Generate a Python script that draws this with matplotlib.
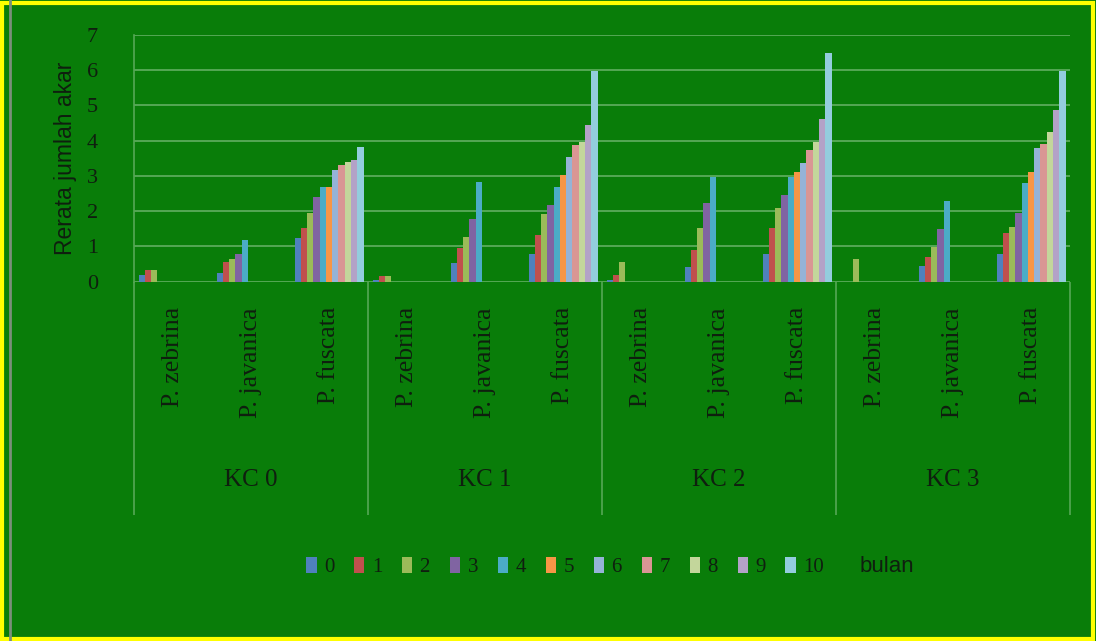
import numpy as np
import matplotlib
matplotlib.use("Agg")
import matplotlib.pyplot as plt
from matplotlib.patches import Patch, Rectangle
from matplotlib.lines import Line2D

#========= Data ==================================
groups  = ["KC 0", "KC 1", "KC 2", "KC 3"]
species = ["P. zebrina", "P. javanica", "P. fuscata"]
months  = ["0", "1", "2", "3", "4", "5", "6", "7", "8", "9", "10"]

# one value per month 0..10 for each group
zebrina = {
    "KC 0": [0.20, 0.33, 0.33, 0, 0, 0, 0, 0, 0, 0, 0],
    "KC 1": [0.05, 0.15, 0.15, 0, 0, 0, 0, 0, 0, 0, 0],
    "KC 2": [0.05, 0.20, 0.55, 0, 0, 0, 0, 0, 0, 0, 0],
    "KC 3": [0.00, 0.00, 0.63, 0, 0, 0, 0, 0, 0, 0, 0],
}
javanica = {
    "KC 0": [0.24, 0.57, 0.63, 0.80, 1.18, 0, 0, 0, 0, 0, 0],
    "KC 1": [0.54, 0.95, 1.28, 1.77, 2.84, 0, 0, 0, 0, 0, 0],
    "KC 2": [0.43, 0.90, 1.51, 2.22, 2.98, 0, 0, 0, 0, 0, 0],
    "KC 3": [0.45, 0.71, 0.99, 1.49, 2.29, 0, 0, 0, 0, 0, 0],
}
fuscata = {
    "KC 0": [1.23, 1.51, 1.96, 2.41, 2.70, 2.70, 3.17, 3.31, 3.40, 3.45, 3.81],
    "KC 1": [0.80, 1.32, 1.91, 2.18, 2.70, 3.03, 3.55, 3.88, 3.97, 4.45, 5.98],
    "KC 2": [0.80, 1.51, 2.08, 2.46, 2.98, 3.12, 3.36, 3.74, 3.97, 4.61, 6.48],
    "KC 3": [0.80, 1.39, 1.54, 1.96, 2.79, 3.12, 3.78, 3.92, 4.26, 4.87, 5.99],
}

colors = ["#4F81BD", "#C0504D", "#9BBB59", "#8064A2", "#4BACC6", "#F79646",
          "#95B3D7", "#D99694", "#C3D69B", "#B3A2C7", "#93CDDD"]

#========= Style ===========
bg    = "#097d09"
grid  = "#55a855"
ink   = "#0f1f0f"
serif = "Liberation Serif"
sans  = "Liberation Sans"

fig = plt.figure(figsize=(10.96, 6.41), dpi=100, facecolor=bg)
ax = fig.add_axes([134/1096, 1-281.7/641, 936/1096, 246.7/641])
ax.set_facecolor(bg)

#========= Bars ===========
table = []
for g in groups:
    table.append(zebrina[g])
    table.append(javanica[g])
    table.append(fuscata[g])
table = np.array(table)          # (12 categories, 11 months)

ncat = table.shape[0]
x = np.arange(ncat)
bw = (69.0/78.0)/len(months)
for m in range(len(months)):
    off = (m - (len(months)-1)/2.0)*bw
    ax.bar(x+off, table[:, m], width=bw, color=colors[m], zorder=3, linewidth=0)

ax.set_xlim(-0.5, ncat-0.5)
ax.set_ylim(0, 7)
ax.set_yticks(range(0, 8))
ax.yaxis.grid(True, color=grid, linewidth=1.4, zorder=1)
ax.set_xticks([])
for s in ["top", "right", "bottom"]:
    ax.spines[s].set_visible(False)
ax.spines["left"].set_color(grid)
ax.spines["left"].set_linewidth(1.2)
ax.tick_params(axis="y", length=0, pad=26, labelcolor=ink)
for lab in ax.get_yticklabels():
    lab.set_fontfamily(serif)
    lab.set_fontsize(16)

ax.set_ylabel("Rerata jumlah akar", fontfamily=sans, fontsize=16.5, color=ink, labelpad=7)

#========= Category axis ===========
xt = ax.get_xaxis_transform()
ax.vlines(np.arange(0, ncat+1, 3)-0.5, -0.946, 0, transform=xt, color=grid,
          linewidth=1.2, clip_on=False)
for i in range(ncat):
    ax.text(x[i], -0.103, species[i % 3], transform=xt, rotation=90, ha="center",
            va="top", fontfamily=serif, fontsize=18.5, color=ink)
for k, g in enumerate(groups):
    ax.text(3*k+1, -0.804, g, transform=xt, ha="center", va="center",
            fontfamily=serif, fontsize=18, color=ink)

#========= Legend ===========
handles = [Patch(facecolor=c, edgecolor="none") for c in colors]
leg = fig.legend(handles, months, loc="center", bbox_to_anchor=(565/1096, 1-567/641),
                 ncol=len(months), frameon=False, handlelength=0.5, handleheight=0.8,
                 handletextpad=0.35, columnspacing=0.95,
                 prop={"family": serif, "size": 15})
for t in leg.get_texts():
    t.set_color(ink)
fig.text(860/1096, 1-567/641, "bulan", fontfamily=sans, fontsize=16, color=ink,
         va="center", ha="left")

#========= Frame ===========
fig.add_artist(Line2D([10/1096, 10/1096], [0, 1], color="#7a8f7a", linewidth=2))
fig.add_artist(Rectangle((0.002, 0.003), 0.995, 0.993, transform=fig.transFigure,
                         fill=False, edgecolor="#ffff00", linewidth=3))

fig.savefig("out.png", dpi=100, facecolor=bg)
